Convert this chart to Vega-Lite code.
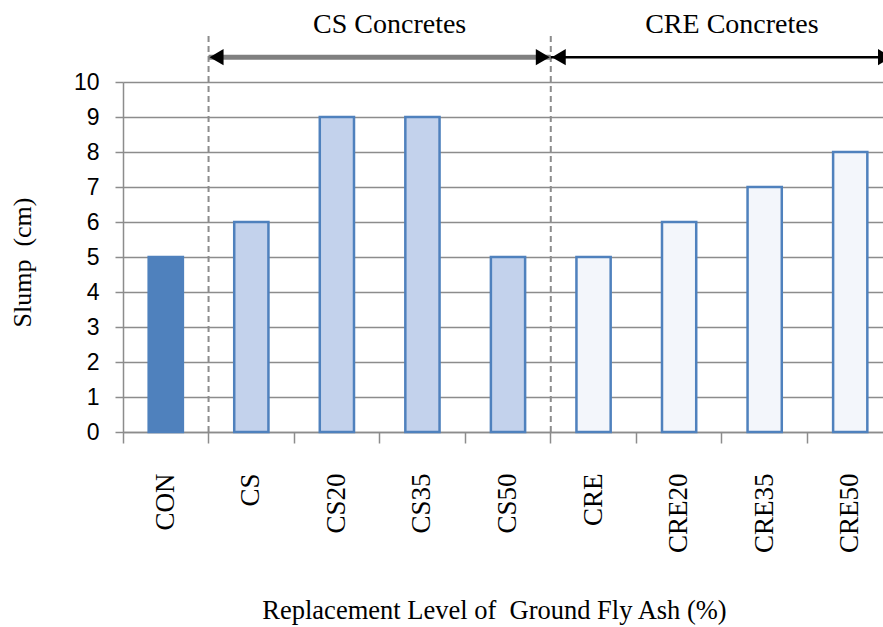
{
  "$schema": "https://vega.github.io/schema/vega-lite/v6.json",
  "width": 760,
  "height": 350,
  "autosize": {"type": "none"},
  "padding": {"left": 123, "top": 82, "right": 0, "bottom": 195},
  "background": "white",
  "config": {"view": {"stroke": null}},
  "datasets": {
    "bars": [
      {"mix": "CON", "slump": 5, "type": "Control"},
      {"mix": "CS", "slump": 6, "type": "CS"},
      {"mix": "CS20", "slump": 9, "type": "CS"},
      {"mix": "CS35", "slump": 9, "type": "CS"},
      {"mix": "CS50", "slump": 5, "type": "CS"},
      {"mix": "CRE", "slump": 5, "type": "CRE"},
      {"mix": "CRE20", "slump": 6, "type": "CRE"},
      {"mix": "CRE35", "slump": 7, "type": "CRE"},
      {"mix": "CRE50", "slump": 8, "type": "CRE"}
    ],
    "groups": [
      {"label": "CS Concretes", "start": "CS", "end": "CRE", "mid": "CS35"},
      {"label": "CRE Concretes", "start": "CRE", "end": "CRE50", "mid": "CRE35"}
    ]
  },
  "layer": [
    {
      "data": {"name": "bars"},
      "mark": {"type": "bar", "width": {"band": 0.4}, "stroke": "#4f81bd", "strokeWidth": 2.5},
      "encoding": {
        "x": {
          "field": "mix", "type": "nominal", "sort": null,
          "scale": {"domain": ["CON", "CS", "CS20", "CS35", "CS50", "CRE", "CRE20", "CRE35", "CRE50"], "range": [0, 770], "paddingInner": 0, "paddingOuter": 0},
          "axis": {
            "bandPosition": 0,
            "labelAngle": -90,
            "labelFont": "Liberation Serif",
            "labelFontSize": 27,
            "labelColor": "black",
            "labelPadding": 30,
            "tickSize": 11,
            "tickColor": "#8c8c8c",
            "tickWidth": 1.5,
            "domainColor": "#8c8c8c",
            "domainWidth": 1.5,
            "grid": false,
            "title": "Replacement Level of \u00a0Ground Fly Ash (%)",
            "titleFont": "Liberation Serif",
            "titleFontSize": 26.5,
            "titleFontWeight": "normal",
            "titleColor": "black",
            "titleX": 371,
            "titleY": 178,
            "titleBaseline": "middle",
            "titleAnchor": "middle"
          }
        },
        "y": {
          "field": "slump", "type": "quantitative",
          "scale": {"domain": [0, 10], "nice": false},
          "axis": {
            "values": [0, 1, 2, 3, 4, 5, 6, 7, 8, 9, 10],
            "tickCount": 11,
            "grid": true,
            "gridColor": "#8c8c8c",
            "gridWidth": 1.5,
            "tickSize": 8,
            "tickColor": "#8c8c8c",
            "tickWidth": 1.5,
            "domainColor": "#8c8c8c",
            "domainWidth": 1.5,
            "labelFont": "Liberation Sans",
            "labelFontSize": 23,
            "labelColor": "black",
            "labelPadding": 16,
            "labelOverlap": false,
            "title": "Slump \u00a0(cm)",
            "titleFont": "Liberation Serif",
            "titleFontSize": 26,
            "titleFontWeight": "normal",
            "titleColor": "black",
            "titleX": -101,
            "titleY": 180,
            "titleBaseline": "middle"
          }
        },
        "fill": {
          "field": "type", "type": "nominal",
          "scale": {"domain": ["Control", "CS", "CRE"], "range": ["#4f81bd", "#c3d2ec", "#f3f6fb"]},
          "legend": null
        }
      }
    },
    {
      "data": {"name": "groups"},
      "mark": {"type": "rule", "color": "#8c8c8c", "strokeWidth": 2, "strokeDash": [6, 4]},
      "encoding": {
        "x": {"field": "start", "type": "nominal", "bandPosition": 0},
        "y": {"datum": 0},
        "y2": {"datum": 11.4}
      }
    },
    {
      "data": {"name": "groups"},
      "transform": [{"filter": "datum.label == 'CS Concretes'"}],
      "mark": {"type": "rule", "color": "#808080", "strokeWidth": 5},
      "encoding": {
        "x": {"field": "start", "type": "nominal", "bandPosition": 0},
        "x2": {"field": "end", "bandPosition": 0},
        "y": {"datum": 10.71}
      }
    },
    {
      "data": {"name": "groups"},
      "transform": [{"filter": "datum.label == 'CRE Concretes'"}],
      "mark": {"type": "rule", "color": "black", "strokeWidth": 2.5},
      "encoding": {
        "x": {"field": "start", "type": "nominal", "bandPosition": 0},
        "x2": {"field": "end", "bandPosition": 1},
        "y": {"datum": 10.71}
      }
    },
    {
      "data": {"name": "groups"},
      "mark": {"type": "point", "shape": "triangle-left", "filled": true, "color": "black", "size": 260, "xOffset": 8, "opacity": 1},
      "encoding": {
        "x": {"field": "start", "type": "nominal", "bandPosition": 0},
        "y": {"datum": 10.71}
      }
    },
    {
      "data": {"name": "groups"},
      "transform": [{"filter": "datum.label == 'CS Concretes'"}],
      "mark": {"type": "point", "shape": "triangle-right", "filled": true, "color": "black", "size": 260, "xOffset": -8, "opacity": 1},
      "encoding": {
        "x": {"field": "end", "type": "nominal", "bandPosition": 0},
        "y": {"datum": 10.71}
      }
    },
    {
      "data": {"name": "groups"},
      "transform": [{"filter": "datum.label == 'CRE Concretes'"}],
      "mark": {"type": "point", "shape": "triangle-right", "filled": true, "color": "black", "size": 260, "xOffset": -8, "opacity": 1},
      "encoding": {
        "x": {"field": "end", "type": "nominal", "bandPosition": 1},
        "y": {"datum": 10.71}
      }
    },
    {
      "data": {"name": "groups"},
      "mark": {"type": "text", "font": "Liberation Serif", "fontSize": 28, "color": "black", "baseline": "middle", "align": "center", "dx": 10},
      "encoding": {
        "x": {"field": "mid", "type": "nominal", "bandPosition": 0},
        "y": {"datum": 11.63},
        "text": {"field": "label"}
      }
    }
  ]
}
